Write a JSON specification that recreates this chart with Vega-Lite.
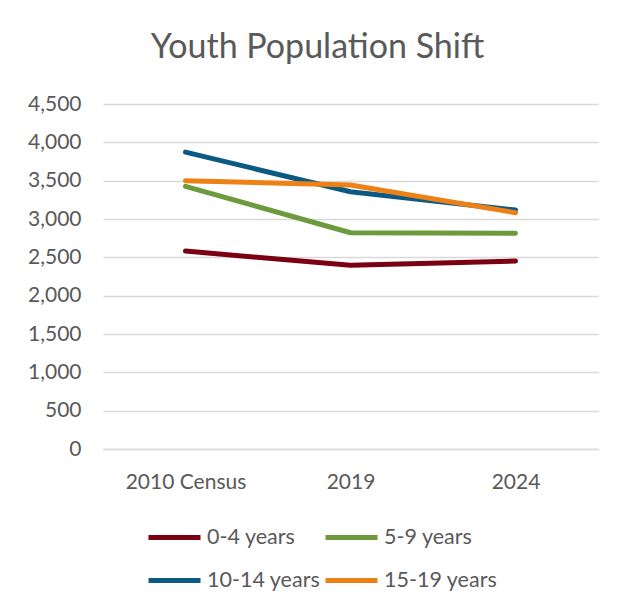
{
  "$schema": "https://vega.github.io/schema/vega-lite/v6.json",
  "autosize": "none",
  "width": 495,
  "height": 345,
  "padding": {"left": 103, "top": 104, "right": 20, "bottom": 162},
  "background": "white",
  "title": {
    "text": "Youth Population Shift",
    "anchor": "middle",
    "dx": -33,
    "offset": 28,
    "fontSize": 34,
    "font": "Lato",
    "fontWeight": "normal",
    "color": "#595959"
  },
  "data": {
    "values": [
      {"period": "2010 Census", "group": "0-4 years", "population": 2582},
      {"period": "2019", "group": "0-4 years", "population": 2396},
      {"period": "2024", "group": "0-4 years", "population": 2451},
      {"period": "2010 Census", "group": "5-9 years", "population": 3426},
      {"period": "2019", "group": "5-9 years", "population": 2821},
      {"period": "2024", "group": "5-9 years", "population": 2813},
      {"period": "2010 Census", "group": "10-14 years", "population": 3872},
      {"period": "2019", "group": "10-14 years", "population": 3356},
      {"period": "2024", "group": "10-14 years", "population": 3117},
      {"period": "2010 Census", "group": "15-19 years", "population": 3500},
      {"period": "2019", "group": "15-19 years", "population": 3444},
      {"period": "2024", "group": "15-19 years", "population": 3082}
    ]
  },
  "mark": {"type": "line", "strokeWidth": 5, "strokeCap": "round", "strokeJoin": "round"},
  "encoding": {
    "x": {
      "field": "period",
      "type": "ordinal",
      "sort": ["2010 Census", "2019", "2024"],
      "scale": {"type": "point", "padding": 0.5},
      "axis": {
        "title": null,
        "labelAngle": 0,
        "ticks": false,
        "domain": true,
        "domainColor": "#d9d9d9",
        "domainWidth": 1.5,
        "labelPadding": 22,
        "grid": false
      }
    },
    "y": {
      "field": "population",
      "type": "quantitative",
      "scale": {"domain": [0, 4500], "nice": false},
      "axis": {
        "title": null,
        "values": [0, 500, 1000, 1500, 2000, 2500, 3000, 3500, 4000, 4500],
        "format": ",d",
        "ticks": false,
        "domain": false,
        "labelPadding": 22,
        "gridColor": "#d9d9d9",
        "gridWidth": 1.5
      }
    },
    "color": {
      "field": "group",
      "type": "nominal",
      "sort": ["0-4 years", "5-9 years", "10-14 years", "15-19 years"],
      "scale": {
        "domain": ["0-4 years", "5-9 years", "10-14 years", "15-19 years"],
        "range": ["#7B0011", "#6C9A3D", "#0B5A84", "#EE8115"]
      },
      "legend": {
        "title": null,
        "orient": "none",
        "legendX": 43,
        "legendY": 418,
        "direction": "horizontal",
        "columns": 2,
        "columnPadding": -6,
        "rowPadding": 17,
        "symbolType": "M-1,0H3",
        "symbolSize": 676,
        "symbolStrokeWidth": 5,
        "symbolFillColor": "transparent",
        "labelOffset": 30,
        "labelFontSize": 21.5,
        "labelFont": "Lato",
        "labelColor": "#595959"
      }
    }
  },
  "config": {
    "view": {"stroke": null},
    "axis": {
      "labelFont": "Lato",
      "labelFontSize": 21,
      "labelColor": "#595959"
    }
  }
}
